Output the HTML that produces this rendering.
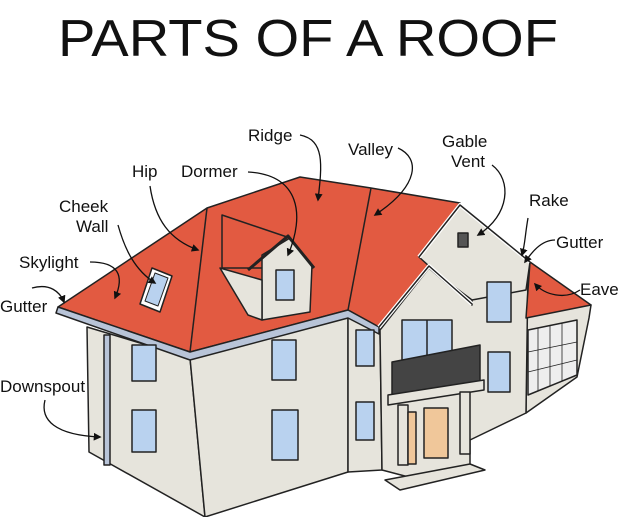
<!DOCTYPE html>
<html><head><meta charset="utf-8"><style>
html,body{margin:0;padding:0;background:#fff;}
svg{display:block;}
text{font-family:"Liberation Sans",sans-serif;fill:#111;}
</style></head><body>
<svg width="620" height="517" viewBox="0 0 620 517" xmlns="http://www.w3.org/2000/svg">
<defs><marker id="a" viewBox="0 0 10 10" refX="8" refY="5" markerWidth="6" markerHeight="6" orient="auto"><path d="M0,0 L10,5 L0,10 z" fill="#111"/></marker></defs>
<text x="58" y="56" font-size="52" textLength="500" lengthAdjust="spacingAndGlyphs">PARTS OF A ROOF</text>
<g stroke="#222" stroke-width="1.5" stroke-linejoin="round">
<polygon points="87,327 190,358 205,517 89,452" fill="#e6e4dc"/>
<polygon points="190,358 348,315 348,472 205,517" fill="#e6e4dc"/>
<polygon points="348,315 380,330 382,470 348,472" fill="#e6e4dc"/>
<polygon points="526,285 591,305 589,318 577,377 526,413" fill="#e6e4dc"/>
<polygon points="380,330 429,268 472,305 472,300 528,270 526,413 470,440 470,470 420,480 382,470" fill="#e6e4dc"/>
<polygon points="419,258 460,205 530,262 526,290 472,300 429,268" fill="#e6e4dc"/>
<polygon points="58,307 207,208 300,177 371,188 460,203 419,257 429,266 379,327 348,310 190,352" fill="#e25a41"/>
<polygon points="530,262 591,305 526,318" fill="#e25a41"/>
<polygon points="58,307 190,352 348,310 379,327 379,334 348,318 190,360 56,313" fill="#b8c4d8"/>
<polyline points="419,257 460,205 530,262" fill="none" stroke-width="4" stroke="#fff"/>
<polyline points="419,257 460,205 530,262" fill="none"/>
<polyline points="379,327 429,266 472,304" fill="none" stroke-width="4" stroke="#fff"/>
<polyline points="379,327 429,266 472,304" fill="none"/>
<line x1="207" y1="208" x2="190" y2="352"/>
<line x1="371" y1="188" x2="348" y2="310"/>
<polygon points="222,215 290,238 270,268 222,268" fill="#e25a41"/>
<polygon points="262,255 290,238 312,265 310,312 262,320" fill="#e6e4dc"/>
<polyline points="248,270 288,236 314,268" fill="none" stroke-width="3"/>
<polygon points="220,268 262,280 262,320 248,315" fill="#e6e4dc"/>
<rect x="276" y="270" width="18" height="30" fill="#b9d2ef"/>
<polygon points="152,268 172,276 160,312 140,304" fill="#fff"/>
<polygon points="155,273 168,278 158,306 145,301" fill="#b9d2ef" stroke-width="1"/>
<rect x="132" y="345" width="24" height="36" fill="#b9d2ef"/>
<rect x="132" y="410" width="24" height="42" fill="#b9d2ef"/>
<rect x="272" y="340" width="24" height="40" fill="#b9d2ef"/>
<rect x="272" y="410" width="26" height="50" fill="#b9d2ef"/>
<rect x="356" y="330" width="18" height="36" fill="#b9d2ef"/>
<rect x="356" y="402" width="18" height="38" fill="#b9d2ef"/>
<rect x="402" y="320" width="50" height="60" fill="#b9d2ef"/>
<line x1="427" y1="320" x2="427" y2="380"/>
<rect x="487" y="282" width="24" height="40" fill="#b9d2ef"/>
<rect x="488" y="352" width="22" height="40" fill="#b9d2ef"/>
<rect x="458" y="233" width="10" height="14" fill="#555"/>
<polygon points="392,362 480,345 480,382 392,395" fill="#444"/>
<polygon points="388,395 484,380 484,390 388,405" fill="#e6e4dc"/>
<rect x="398" y="405" width="10" height="60" fill="#e6e4dc"/>
<rect x="460" y="392" width="10" height="62" fill="#e6e4dc"/>
<rect x="424" y="408" width="24" height="50" fill="#f0c79a"/>
<rect x="408" y="412" width="8" height="52" fill="#f0c79a"/>
<polygon points="385,480 470,464 485,470 400,490" fill="#e6e4dc"/>
<polygon points="528,330 577,320 577,375 528,395" fill="#eee"/>
<line x1="538" y1="328" x2="538" y2="391" stroke-width="0.8"/>
<line x1="550" y1="326" x2="550" y2="386" stroke-width="0.8"/>
<line x1="562" y1="323" x2="562" y2="381" stroke-width="0.8"/>
<line x1="528" y1="352" x2="577" y2="342" stroke-width="0.8"/>
<line x1="528" y1="372" x2="577" y2="360" stroke-width="0.8"/>
<rect x="104" y="335" width="6" height="130" fill="#b8c4d8"/>
</g>
<g stroke="#111" stroke-width="1.3" fill="none" marker-end="url(#a)">
<path d="M300,135 C325,140 322,165 318,200"/>
<path d="M398,148 C420,158 420,185 375,215"/>
<path d="M492,165 C512,180 510,215 478,235"/>
<path d="M248,172 C300,175 305,215 288,255"/>
<path d="M150,186 C155,220 170,240 198,250"/>
<path d="M118,225 C125,250 135,270 155,283"/>
<path d="M90,262 C118,262 125,275 115,298"/>
<path d="M528,218 C525,235 525,245 522,255"/>
<path d="M555,240 C540,240 530,255 525,262"/>
<path d="M580,290 C565,300 545,295 535,284"/>
<path d="M32,288 C50,283 60,292 64,302"/>
<path d="M45,400 C40,420 55,435 100,437"/>
</g>
<g font-size="17">
<text x="248" y="141">Ridge</text>
<text x="348" y="155">Valley</text>
<text x="442" y="147">Gable</text>
<text x="451" y="167">Vent</text>
<text x="132" y="177">Hip</text>
<text x="181" y="177">Dormer</text>
<text x="59" y="212">Cheek</text>
<text x="76" y="232">Wall</text>
<text x="19" y="268">Skylight</text>
<text x="529" y="206">Rake</text>
<text x="556" y="248">Gutter</text>
<text x="580" y="295">Eave</text>
<text x="0" y="312">Gutter</text>
<text x="0" y="392">Downspout</text>
</g>
</svg>
</body></html>
